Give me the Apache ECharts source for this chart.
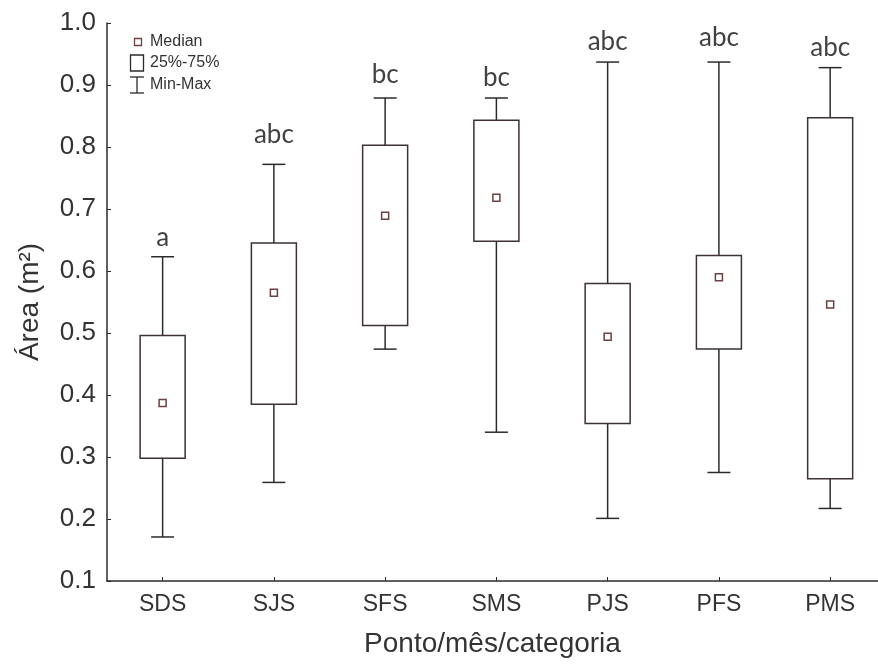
<!DOCTYPE html>
<html>
<head>
<meta charset="utf-8">
<script src="https://cdn.jsdelivr.net/npm/echarts@6/dist/echarts.min.js"></script>
<style>
  html, body { margin: 0; padding: 0; background: #fff; }
  #chart { width: 878px; height: 664px; }
</style>
</head>
<body>
<div id="chart"></div>
<script>
// values
const categories = ['SDS', 'SJS', 'SFS', 'SMS', 'PJS', 'PFS', 'PMS']
const minVals = [0.171, 0.259, 0.474, 0.340, 0.201, 0.275, 0.217]
const q1Vals = [0.298, 0.385, 0.512, 0.648, 0.354, 0.474, 0.265]
const medianVals = [0.387, 0.565, 0.689, 0.718, 0.494, 0.590, 0.546]
const q3Vals = [0.496, 0.645, 0.803, 0.843, 0.580, 0.625, 0.847]
const maxVals = [0.623, 0.772, 0.879, 0.879, 0.937, 0.937, 0.928]
const groupLetters = ['a', 'abc', 'bc', 'bc', 'abc', 'abc', 'abc']
const letterHeights = [0.654, 0.820, 0.917, 0.912, 0.970, 0.976, 0.961]
const yTicks = [0.1, 0.2, 0.3, 0.4, 0.5, 0.6, 0.7, 0.8, 0.9, 1.0]

// each category sits in the middle of its slot; the plot is cut at the right edge
const catPos = categories.map((c, i) => i + 0.5)
const xMax = 6.93

const boxData = categories.map((c, i) => [catPos[i], minVals[i], q1Vals[i], medianVals[i], q3Vals[i], maxVals[i]])
const letterData = categories.map((c, i) => [catPos[i], letterHeights[i], groupLetters[i]])

const lineColor = '#2b2b2b'
const boxColor = '#3d3131'
const medColor = '#6e4040'
const font = 'Liberation Sans'

function renderBox(params, api) {
  const xv = api.value(0)
  const lo = api.coord([xv, api.value(1)])
  const q1 = api.coord([xv, api.value(2)])
  const med = api.coord([xv, api.value(3)])
  const q3 = api.coord([xv, api.value(4)])
  const hi = api.coord([xv, api.value(5)])
  const x = lo[0]
  const bw = 45, cw = 23, ms = 7
  const ls = { stroke: lineColor, lineWidth: 1.5 }
  return {
    type: 'group',
    children: [
      { type: 'line', shape: { x1: x, y1: hi[1], x2: x, y2: q3[1] }, style: ls },
      { type: 'line', shape: { x1: x, y1: q1[1], x2: x, y2: lo[1] }, style: ls },
      { type: 'line', shape: { x1: x - cw / 2, y1: hi[1], x2: x + cw / 2, y2: hi[1] }, style: ls },
      { type: 'line', shape: { x1: x - cw / 2, y1: lo[1], x2: x + cw / 2, y2: lo[1] }, style: ls },
      { type: 'rect', shape: { x: x - bw / 2, y: q3[1], width: bw, height: q1[1] - q3[1] },
        style: { fill: '#fff', stroke: boxColor, lineWidth: 1.5 } },
      { type: 'rect', shape: { x: x - ms / 2, y: med[1] - ms / 2, width: ms, height: ms },
        style: { fill: '#fff', stroke: medColor, lineWidth: 1.5 } }
    ]
  }
}

const chart = echarts.init(document.getElementById('chart'))
chart.setOption({
  animation: false,
  backgroundColor: '#fff',
  grid: { left: 107, top: 23, right: 0, height: 558 },
  xAxis: {
    type: 'value',
    min: 0,
    max: xMax,
    name: 'Ponto/mês/categoria',
    nameLocation: 'middle',
    nameGap: 49,
    nameTextStyle: { fontFamily: font, fontSize: 28, color: '#333' },
    axisLine: { lineStyle: { color: lineColor, width: 1.5 } },
    axisTick: { inside: true, length: 4, customValues: catPos, lineStyle: { color: lineColor } },
    axisLabel: {
      fontFamily: font, fontSize: 23, color: '#333', margin: 12,
      customValues: catPos,
      formatter: v => categories[Math.round(v - 0.5)]
    },
    splitLine: { show: false }
  },
  yAxis: {
    type: 'value',
    min: 0.1,
    max: 1.0,
    interval: 0.1,
    name: 'Área (m²)',
    nameLocation: 'middle',
    nameGap: 63,
    nameRotate: 90,
    nameTextStyle: { fontFamily: font, fontSize: 28, color: '#333' },
    axisLine: { show: true, lineStyle: { color: lineColor, width: 1.5 } },
    axisTick: { show: true, inside: true, length: 4, lineStyle: { color: lineColor } },
    axisLabel: {
      fontFamily: font, fontSize: 26, color: '#333', margin: 11,
      formatter: v => yTicks.some(t => Math.abs(t - v) < 1e-6) ? v.toFixed(1) : ''
    },
    splitLine: { show: false }
  },
  series: [
    {
      type: 'custom',
      renderItem: renderBox,
      encode: { x: 0, y: [1, 2, 3, 4, 5] },
      data: boxData,
      z: 3
    },
    {
      type: 'scatter',
      symbolSize: 0,
      data: letterData,
      label: {
        show: true,
        position: 'inside',
        formatter: p => p.value[2],
        fontFamily: 'Lato',
        fontSize: 26,
        color: '#111'
      },
      z: 4
    }
  ],
  graphic: [
    { type: 'rect', shape: { x: 134.5, y: 38.5, width: 7, height: 7 },
      style: { fill: '#fff', stroke: medColor, lineWidth: 1.3 } },
    { type: 'text', x: 150, y: 42, style: { text: 'Median', fontFamily: font, fontSize: 16, fill: '#333', verticalAlign: 'middle' } },
    { type: 'rect', shape: { x: 130.5, y: 55, width: 13, height: 16 },
      style: { fill: '#fff', stroke: lineColor, lineWidth: 1.3 } },
    { type: 'text', x: 150, y: 63, style: { text: '25%-75%', fontFamily: font, fontSize: 16, fill: '#333', verticalAlign: 'middle' } },
    { type: 'line', shape: { x1: 130, y1: 77, x2: 144, y2: 77 }, style: { stroke: lineColor, lineWidth: 1.3 } },
    { type: 'line', shape: { x1: 137, y1: 77, x2: 137, y2: 93 }, style: { stroke: lineColor, lineWidth: 1.3 } },
    { type: 'line', shape: { x1: 130, y1: 93, x2: 144, y2: 93 }, style: { stroke: lineColor, lineWidth: 1.3 } },
    { type: 'text', x: 150, y: 85, style: { text: 'Min-Max', fontFamily: font, fontSize: 16, fill: '#333', verticalAlign: 'middle' } }
  ]
})
</script>
</body>
</html>
